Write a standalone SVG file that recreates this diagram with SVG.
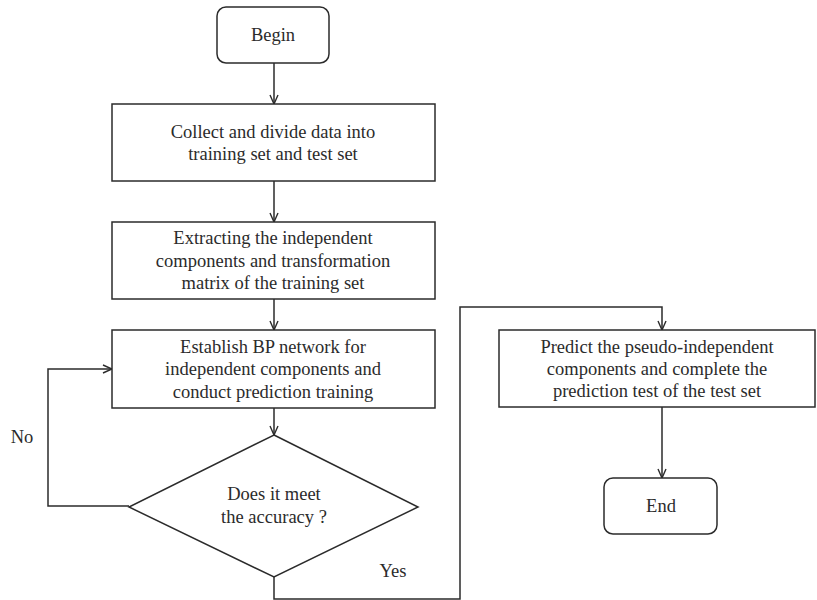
<svg xmlns="http://www.w3.org/2000/svg" width="817" height="600" viewBox="0 0 817 600">
<defs>
<marker id="arr" viewBox="0 0 10 10" refX="10" refY="5" markerWidth="10" markerHeight="10" markerUnits="userSpaceOnUse" orient="auto">
<path d="M1,1 L10,5 L1,9" fill="none" stroke="#2b2b2b" stroke-width="1.4"/>
</marker>
<style>
.box{fill:#fff;stroke:#2b2b2b;stroke-width:1.5}
.ln{fill:none;stroke:#2b2b2b;stroke-width:1.5}
text{font-family:"Liberation Serif","Times New Roman",serif;font-size:18.5px;fill:#2b2b2b;text-anchor:middle}
</style>
</defs>
<rect width="817" height="600" fill="#fff"/>
<g id="connectors">
<path class="ln" d="M274,63 V104" marker-end="url(#arr)"/>
<path class="ln" d="M274,181 V222" marker-end="url(#arr)"/>
<path class="ln" d="M274,299 V330" marker-end="url(#arr)"/>
<path class="ln" d="M274,408 V435" marker-end="url(#arr)"/>
<path class="ln" d="M129,506 H48 V369 H112" marker-end="url(#arr)"/>
<path class="ln" d="M274,577 V599 H460 V307 H662 V330" marker-end="url(#arr)"/>
<path class="ln" d="M662,407 V478" marker-end="url(#arr)"/>
<text x="22" y="443">No</text>
<text x="393" y="577">Yes</text>
</g>
<g id="begin">
<rect class="box" x="217" y="7" width="112" height="56" rx="9"/>
<text x="273" y="41">Begin</text>
</g>
<g id="collect">
<rect class="box" x="112" y="104" width="323" height="77"/>
<text x="273" y="138">Collect and divide data into</text>
<text x="273" y="160">training set and test set</text>
</g>
<g id="extract">
<rect class="box" x="112" y="222" width="323" height="77"/>
<text x="273" y="244">Extracting the independent</text>
<text x="273" y="267">components and transformation</text>
<text x="273" y="289">matrix of the training set</text>
</g>
<g id="establish">
<rect class="box" x="112" y="330" width="323" height="78"/>
<text x="273" y="353">Establish BP network for</text>
<text x="273" y="375">independent components and</text>
<text x="273" y="398">conduct prediction training</text>
</g>
<g id="decision">
<polygon class="box" points="274,435 418,507 274,577 129,507"/>
<text x="274" y="500">Does it meet</text>
<text x="274" y="523">the accuracy ?</text>
</g>
<g id="predict">
<rect class="box" x="499" y="330" width="316" height="77"/>
<text x="657" y="353">Predict the pseudo-independent</text>
<text x="657" y="375">components and complete the</text>
<text x="657" y="397">prediction test of the test set</text>
</g>
<g id="end">
<rect class="box" x="604" y="478" width="113" height="56" rx="9"/>
<text x="661" y="512">End</text>
</g>
</svg>
